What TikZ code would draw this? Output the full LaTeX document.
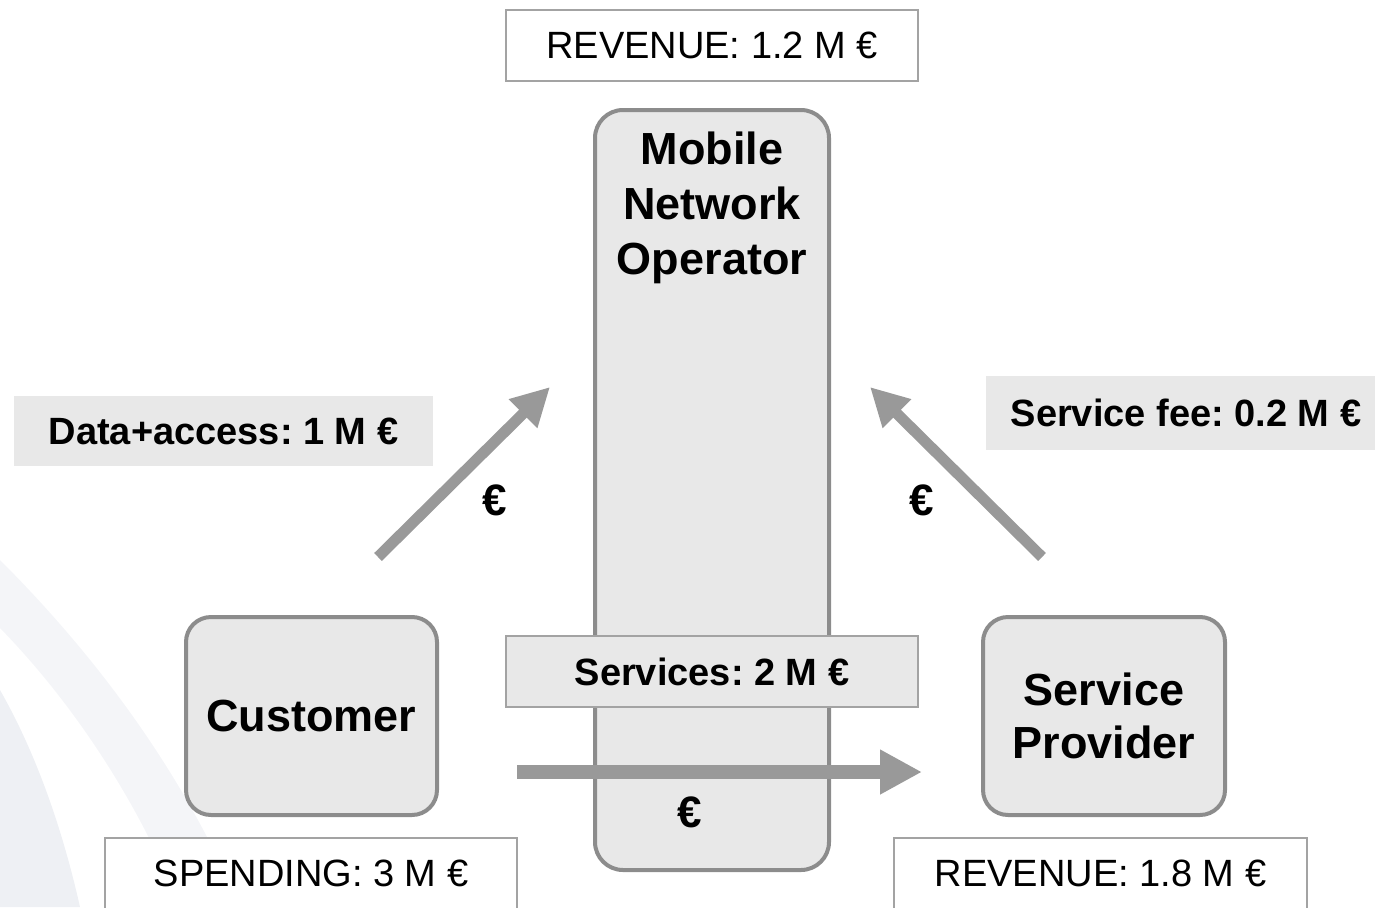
\documentclass[tikz,border=0pt]{standalone}
\usepackage{fontspec}
\setmainfont{Liberation Sans}
\usetikzlibrary{arrows.meta}
\frenchspacing

\definecolor{boxgray}{HTML}{E8E8E8}
\definecolor{linegray}{HTML}{8C8C8C}
\definecolor{arrowgray}{HTML}{999999}
\definecolor{wmarkA}{HTML}{F4F5F8}
\definecolor{wmarkB}{HTML}{EEF0F4}

\begin{document}
\begin{tikzpicture}[x=1pt,y=-1pt,
    actor/.style={rectangle, rounded corners=28pt, draw=linegray, line width=4pt,
      fill=boxgray, align=center, inner sep=0pt,
      font=\fontsize{45}{54}\selectfont\bfseries},
    figure/.style={rectangle, draw=linegray!80, line width=1.5pt, fill=white,
      inner sep=0pt, font=\fontsize{38}{46}\selectfont},
    flowlabel/.style={rectangle, fill=boxgray, inner sep=0pt,
      font=\fontsize{38}{46}\selectfont\bfseries},
    flow/.style={draw=arrowgray, line width=11pt,
      -{Triangle[length=38pt,width=38pt]}},
    euro/.style={font=\fontsize{44}{50}\selectfont\bfseries}]

      \useasboundingbox (0,0) rectangle (1375,907);

      %% faint watermark
      \fill[wmarkA] (0,560) .. controls (120,680) and (195,800) .. (240,907)
        -- (180,907) .. controls (140,805) and (75,705) .. (0,628) -- cycle;
      \fill[wmarkB] (0,690) .. controls (40,760) and (65,840) .. (80,907)
        -- (0,907) -- cycle;

      %% operator in the middle
      \node (MNO) [actor, minimum width=234pt, minimum height=760pt] at (712,490) {};
      \node (MNOname) [anchor=north, align=center, inner sep=0pt,
        font=\fontsize{45}{55}\selectfont\bfseries]
        at ([yshift=-24pt]MNO.north) {Mobile\\Network\\Operator};
      \node (MNOrev) [figure, minimum width=412pt, minimum height=71pt] at (712,45.5)
        {REVENUE: 1.2 M €};

      \node (Customer) [actor, minimum width=251pt, minimum height=198pt,
        rounded corners=25pt] at (311.5,716) {Customer};
      \node (Spending) [figure, minimum width=412pt, minimum height=71pt] at (311,873.5)
        {SPENDING: 3 M €};

      \node (Provider) [actor, minimum width=242pt, minimum height=198pt,
        rounded corners=25pt] at (1104,716) {Service\\[-1pt]Provider};
      \node (SPrev) [figure, minimum width=413pt, minimum height=71pt] at (1100.5,873.5)
        {REVENUE: 1.8 M €};

      %% money flows
      \node (Access) [flowlabel, minimum width=419pt, minimum height=70pt] at (223.5,431)
        {Data+access: 1 M €};
      \node (Fee) [flowlabel, minimum width=400pt, minimum height=74pt] at (1186,413)
        {Service fee: 0.2 M €};
      \node (Services) [flowlabel, draw=linegray!80, line width=1.5pt,
        minimum width=412pt, minimum height=71pt] at (712,671.5) {Services: 2 M €};

      \coordinate (accFrom) at (378,557);
      \coordinate (accTo) at (550,387);
      \coordinate (feeFrom) at (1042,557);
      \coordinate (feeTo) at (870,387);
      \coordinate (srvFrom) at (517,772);
      \coordinate (srvTo) at (922,772);

      \draw[flow] (accFrom) -- (accTo);
      \draw[flow] (feeFrom) -- (feeTo);
      \draw[flow, line width=14pt, -{Triangle[length=42pt,width=42pt]}] (srvFrom) -- (srvTo);

      \node (euroA) [euro] at (495,500) {€};
      \node (euroB) [euro] at (922,500) {€};
      \node (euroC) [euro] at (690,812) {€};

\end{tikzpicture}
\end{document}
